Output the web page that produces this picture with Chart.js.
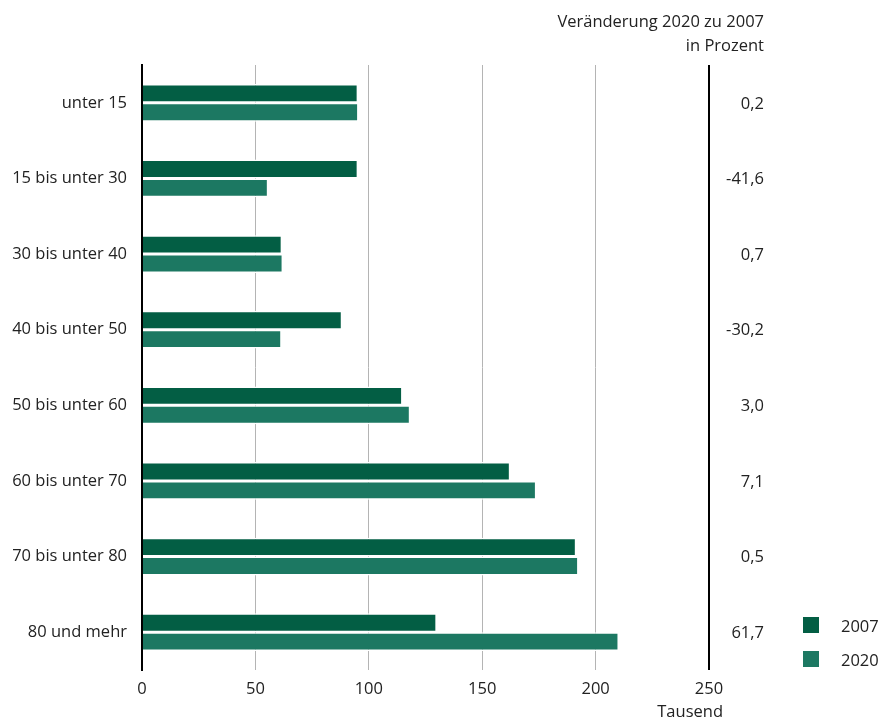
<!DOCTYPE html>
<html lang="de">
<head>
<meta charset="utf-8">
<script src="https://cdn.jsdelivr.net/npm/chart.js@4.4.1/dist/chart.umd.min.js"></script>
<style>
  html, body { margin: 0; padding: 0; background: #fff; }
  #wrap { width: 893px; height: 722px; position: relative; }
</style>
</head>
<body>
<div id="wrap"><canvas id="chart" width="893" height="722"></canvas></div>
<script>
// Altersgruppen
const categories = [
  'unter 15', '15 bis unter 30', '30 bis unter 40', '40 bis unter 50',
  '50 bis unter 60', '60 bis unter 70', '70 bis unter 80', '80 und mehr'
];
// Werte in Tausend
const values2007 = [95.3, 95.3, 61.8, 88.3, 114.9, 162.4, 191.5, 130.0];
const values2020 = [95.5, 55.7, 62.2, 61.6, 118.3, 173.9, 192.5, 210.3];
// Veränderung 2020 zu 2007 in Prozent
const changeLabels = ['0,2', '-41,6', '0,7', '-30,2', '3,0', '7,1', '0,5', '61,7'];
const seriesNames = ['2007', '2020'];
const xTicks = [0, 50, 100, 150, 200, 250];

const FONT = "'Open Sans', 'Noto Sans', sans-serif";
const FSIZE = 16.5;
const TEXT = '#222';
const colors = ['#035e44', '#1c7862'];

// Spalte mit prozentualer Veränderung, Kopfzeile, Einheit und Legende
const extras = {
  id: 'extras',
  afterDraw(chart) {
    const { ctx, scales: { x, y } } = chart;
    ctx.save();
    ctx.fillStyle = TEXT;
    ctx.font = `${FSIZE}px ${FONT}`;
    ctx.textBaseline = 'middle';
    ctx.textAlign = 'right';
    const colRight = 764;
    changeLabels.forEach((t, i) => {
      ctx.fillText(t, colRight, y.getPixelForValue(i) + 1);
    });
    ctx.fillText('Veränderung 2020 zu 2007', colRight, 22);
    ctx.fillText('in Prozent', colRight, 46);
    ctx.fillText('Tausend', 723, 712);

    // Legende
    const legY = [625, 659];
    chart.data.datasets.forEach((ds, i) => {
      ctx.fillStyle = ds.backgroundColor;
      ctx.fillRect(803, legY[i] - 8, 16, 16);
      ctx.fillStyle = TEXT;
      ctx.textAlign = 'left';
      ctx.fillText(ds.label, 841, legY[i] + 2);
    });
    ctx.restore();
  }
};

new Chart(document.getElementById('chart'), {
  type: 'bar',
  data: {
    labels: categories,
    datasets: [
      { label: seriesNames[0], data: values2007, backgroundColor: colors[0] },
      { label: seriesNames[1], data: values2020, backgroundColor: colors[1] }
    ]
  },
  options: {
    indexAxis: 'y',
    responsive: false,
    animation: false,
    devicePixelRatio: 1,
    layout: { padding: { top: 65, right: 184, left: 0, bottom: 0 } },
    datasets: {
      bar: {
        categoryPercentage: 0.5,
        barPercentage: 1.0,
        borderColor: '#ffffff',
        borderWidth: 1.5,
        borderSkipped: 'start'
      }
    },
    plugins: {
      legend: { display: false },
      tooltip: { enabled: false }
    },
    scales: {
      x: {
        min: 0,
        max: 250,
        afterBuildTicks(scale) {
          scale.ticks = xTicks.map(v => ({ value: v }));
        },
        afterFit(scale) { scale.height = 52; },
        grid: {
          drawTicks: false,
          color: ctx => (ctx.tick && (ctx.tick.value === 250 || ctx.tick.value === 0)) ? '#000' : '#b4b4b4',
          lineWidth: ctx => (ctx.tick && (ctx.tick.value === 250 || ctx.tick.value === 0)) ? 2 : 1
        },
        border: { display: false },
        ticks: {
          padding: 9,
          color: TEXT,
          font: { family: FONT, size: FSIZE }
        }
      },
      y: {
        afterFit(scale) { scale.width = 142; },
        grid: { display: false, drawTicks: false },
        border: { display: true, color: '#000', width: 2 },
        ticks: {
          padding: 15,
          color: TEXT,
          font: { family: FONT, size: FSIZE }
        }
      }
    }
  },
  plugins: [extras]
});
</script>
</body>
</html>
